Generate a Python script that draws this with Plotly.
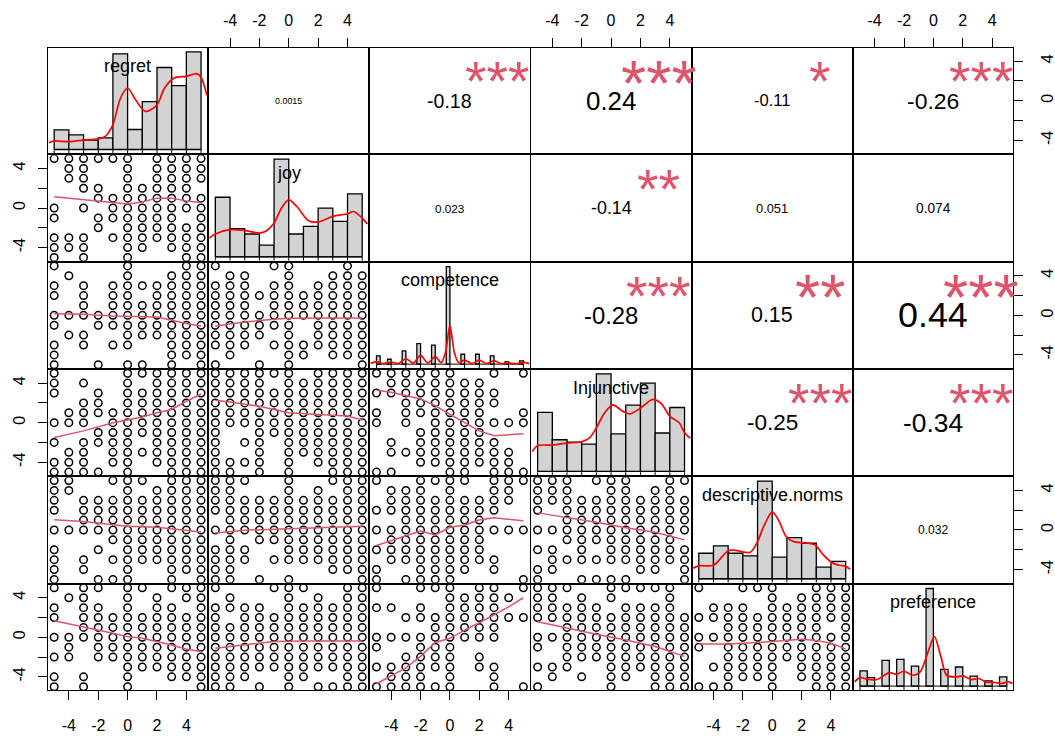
import plotly.graph_objects as go
from plotly.subplots import make_subplots

names = ["regret", "joy", "competence", "Injunctive", "descriptive.norms", "preference"]
levels = list(range(-5, 6))
ALL = levels

# ---------------- histograms (bin left edges, bin width, relative heights) ----------------
unit_left = [-5, -4, -3, -2, -1, 0, 1, 2, 3, 4]
regret_hist = [0.20, 0.15, 0.095, 0.12, 0.98, 0.205, 0.49, 0.84, 0.655, 1.0]
joy_hist = [0.606, 0.286, 0.232, 0.118, 0.993, 0.232, 0.310, 0.495, 0.360, 0.640]
competence_left = [-5, -4.25, -3.25, -2.25, -1.25, -0.25, 0.75, 1.75, 2.75, 3.75, 4.75]
competence_hist = [0.084, 0.05, 0.135, 0.209, 0.195, 0.997, 0.101, 0.101, 0.084, 0.024, 0.034]
injunctive_hist = [0.609, 0.327, 0.303, 0.283, 1.007, 0.387, 0.684, 0.912, 0.397, 0.660]
descriptive_hist = [0.266, 0.343, 0.266, 0.239, 1.017, 0.226, 0.428, 0.370, 0.121, 0.182]
preference_left = [-5, -4.5, -3.5, -2.5, -1.5, -0.5, 0.5, 1.5, 2.5, 3.5, 4.5]
preference_hist = [0.156, 0.088, 0.265, 0.276, 0.207, 1.007, 0.173, 0.197, 0.102, 0.054, 0.095]

hists = [
    (unit_left, 1.0, regret_hist),
    (unit_left, 1.0, joy_hist),
    (competence_left, 0.25, competence_hist),
    (unit_left, 1.0, injunctive_hist),
    (unit_left, 1.0, descriptive_hist),
    (preference_left, 0.5, preference_hist),
]

# ---------------- density curves ----------------
regret_dx = [-5.35, -5, -4, -3, -2, -1.5, -1, -0.5, 0, 0.5, 1.2, 2, 2.5, 3.2, 4, 4.7, 5, 5.4]
regret_dy = [0.07, 0.087, 0.08, 0.097, 0.11, 0.137, 0.255, 0.52, 0.63, 0.52, 0.39, 0.456, 0.626, 0.734, 0.75, 0.777, 0.74, 0.556]
joy_dx = [-5.42, -5, -4, -3, -2, -1.5, -1, -0.5, 0, 0.55, 1.35, 2, 3, 4, 4.4, 5, 5.35]
joy_dy = [0.19, 0.232, 0.276, 0.269, 0.242, 0.266, 0.343, 0.495, 0.579, 0.512, 0.367, 0.354, 0.411, 0.438, 0.461, 0.394, 0.333]
competence_dx = [-5.4, -5, -4.6, -4, -3.5, -3, -2.5, -2, -1.5, -1, -0.6, -0.3, 0, 0.3, 0.6, 1, 1.5, 2, 2.5, 3, 3.5, 4, 4.5, 5, 5.4]
competence_dy = [0.008, 0.025, 0.006, 0.022, 0.006, 0.055, 0.01, 0.09, 0.012, 0.08, 0.015, 0.12, 0.40, 0.12, 0.015, 0.04, 0.006, 0.04, 0.006, 0.035, 0.004, 0.012, 0.004, 0.018, 0.005]
injunctive_dx = [-5.38, -5, -4, -3, -2, -1.45, -1, -0.45, 0.13, 0.8, 1.26, 2, 2.83, 3.4, 4, 4.64, 5, 5.4]
injunctive_dy = [0.205, 0.266, 0.273, 0.293, 0.306, 0.35, 0.451, 0.603, 0.687, 0.62, 0.593, 0.653, 0.744, 0.704, 0.569, 0.502, 0.40, 0.343]
descriptive_dx = [-5.38, -5, -4, -3, -2.5, -1.5, -1, -0.55, 0, 0.45, 0.95, 1.46, 2, 2.9, 3.46, 4, 4.55, 4.9, 5.3]
descriptive_dy = [0.111, 0.135, 0.141, 0.293, 0.296, 0.276, 0.387, 0.556, 0.697, 0.606, 0.438, 0.387, 0.377, 0.354, 0.253, 0.175, 0.141, 0.135, 0.101]
preference_dx = [-5.36, -5, -4.46, -3.83, -3, -2.5, -2, -1.4, -0.9, -0.33, 0.07, 0.52, 0.9, 1.58, 2, 2.6, 3.1, 3.6, 4.2, 4.63, 5.1, 5.4]
preference_dy = [0.044, 0.088, 0.068, 0.068, 0.139, 0.122, 0.153, 0.112, 0.146, 0.367, 0.51, 0.299, 0.112, 0.095, 0.105, 0.068, 0.078, 0.041, 0.037, 0.027, 0.044, 0.027]

dens = [(regret_dx, regret_dy), (joy_dx, joy_dy), (competence_dx, competence_dy),
        (injunctive_dx, injunctive_dy), (descriptive_dx, descriptive_dy), (preference_dx, preference_dy)]

# ---------------- scatter panels: {y value: [x values present]} ----------------
joy_vs_regret = {5: [-5, -4, -3, -2, -1, 0, 2, 3, 4, 5], 4: [-4, -3, 0, 2, 3, 4, 5], 3: [-4, -3, 0, 2, 3, 4, 5],
                 2: [-3, -2, 0, 1, 2, 3, 4], 1: [-2, -1, 0, 1, 2, 3, 4, 5], 0: [-5, -3, -1, 0, 1, 2, 3, 4, 5],
                 -1: [-5, -2, -1, 0, 1, 2, 3, 5], -2: [-2, 0, 1, 2, 3, 4, 5], -3: [-5, -4, -3, -1, 0, 1, 2, 3, 4, 5],
                 -4: [-5, -4, -3, 0, 1, 3, 4, 5], -5: [-5, -3, 0, 4, 5]}
comp_vs_regret = {5: [-5, 0, 4, 5], 4: [-4, 0, 3, 4, 5], 3: [-5, -3, -1, 0, 1, 2, 3, 4, 5], 2: [-5, -3, -1, 0, 2, 3, 4, 5],
                  1: [-3, -1, 0, 1, 2, 3, 4, 5], 0: ALL, -1: [-5, -2, -1, 0, 1, 2, 3, 4, 5], -2: [-4, -3, 0, 1, 2, 3, 4, 5],
                  -3: [-5, -3, -1, 0, 3, 4, 5], -4: [-5, 3, 4, 5], -5: [-5, -2, 0, 1, 3, 5]}
comp_vs_joy = {5: [-5, -1, 0, 4], 4: [-4, -3, 0, 3, 4, 5], 3: [-5, -4, -3, -1, 0, 2, 3, 4, 5], 2: ALL,
               1: [-5, -4, -3, -1, 0, 1, 2, 3, 4, 5], 0: ALL, -1: [-5, -4, -3, -2, -1, 0, 2, 3, 4, 5],
               -2: [-5, -4, -3, -2, 0, 2, 3, 4, 5], -3: [-5, -4, -3, -1, 0, 1, 2, 3, 4, 5], -4: [-4, 0, 1, 3, 4, 5],
               -5: [-5, -2, 0, 5]}
inj_vs_regret = {5: [-5, 0, 1, 2, 3, 4, 5], 4: [-5, -3, 0, 2, 3, 4, 5], 3: [-5, -2, 0, 1, 2, 3, 4, 5],
                 2: [-3, -2, 0, 1, 2, 3, 4, 5], 1: [-4, -3, -2, -1, 0, 1, 2, 3, 4, 5], 0: [-5, -4, -3, -1, 0, 1, 2, 3, 4, 5],
                 -1: [-2, -1, 0, 1, 2, 3, 4, 5], -2: [-5, -3, -2, -1, 0, 2, 3, 4, 5], -3: [-4, -3, -1, 0, 1, 2, 3, 4, 5],
                 -4: [-5, -4, -3, -1, 0, 2, 3, 4, 5], -5: [-5, -4, -3, -2, 0, 3, 4, 5]}
inj_vs_joy = {5: [-5, -4, -3, -2, -1, 0, 2, 3, 4, 5], 4: [-5, -4, -3, -2, 0, 1, 2, 3, 4, 5], 3: ALL, 2: ALL, 1: ALL, 0: ALL,
              -1: [-5, -2, -1, 0, 1, 2, 3, 4, 5], -2: [-5, -3, -2, 0, 1, 2, 3, 4, 5], -3: [-5, -2, 0, 1, 2, 3, 4, 5],
              -4: [-5, -4, -3, -2, 0, 2, 3, 4, 5], -5: [-5, -4, -2, 0, 3, 4, 5]}
inj_vs_comp = {5: [-5, -4, -3, -2, -1, 0, 3, 5], 4: [-4, -3, -2, -1, 0, 1, 2], 3: [-5, -4, -3, -2, -1, 0, 1, 2, 3],
               2: [-3, -2, -1, 0, 1, 2, 3], 1: [-5, -3, -2, -1, 0, 1, 2, 5], 0: [-5, -3, -1, 0, 1, 2, 3, 4, 5],
               -1: [-2, -1, 0, 1, 2], -2: [-4, -2, -1, 0, 1, 2, 3], -3: [-4, -3, -2, -1, 0, 1, 2, 3, 4],
               -4: [-2, -1, 0, 1, 2, 3, 4], -5: [-5, -4, 0, 1, 3, 4, 5]}
desc_vs_regret = {5: [-5, -4, -1, 0, 1, 3, 4, 5], 4: [-5, -4, 0, 2, 3, 4, 5], 3: [-5, -3, -2, -1, 0, 1, 2, 3, 4, 5],
                  2: [-5, -3, -2, -1, 0, 1, 2, 3, 4, 5], 1: [-3, -2, -1, 0, 1, 2, 3, 4, 5], 0: ALL,
                  -1: [-1, 0, 1, 2, 3, 4, 5], -2: [-5, -2, 0, 1, 2, 3, 4, 5], -3: [-5, -3, -1, 0, 1, 2, 3, 4, 5],
                  -4: [-5, -3, 0, 3, 4, 5], -5: [-5, -2, -1, 0, 3, 5]}
desc_vs_joy = {5: [-5, -4, -3, 0, 3, 4, 5], 4: [-5, -4, 0, 2, 4, 5], 3: ALL, 2: ALL, 1: [-4, -3, -2, -1, 0, 1, 2, 3, 4, 5],
               0: ALL, -1: [-4, -2, -1, 0, 1, 2, 3, 4, 5], -2: [-5, -4, -3, 0, 1, 2, 3, 4, 5],
               -3: [-5, -4, -3, -1, 0, 1, 2, 3, 4, 5], -4: [-5, -4, 3, 4, 5], -5: [-5, -4, -2, 0, 5]}
desc_vs_comp = {5: [-5, -2, -1, 0, 1, 3, 4, 5], 4: [-4, -3, -2, 0, 3, 4], 3: [-4, -3, -2, -1, 0, 1, 2, 3, 4],
                2: [-5, -4, -3, -2, -1, 0, 1, 2, 3], 1: [-3, -2, -1, 0, 1, 2], 0: ALL, -1: [-4, -3, -2, -1, 0, 1, 2],
                -2: [-5, -4, -3, -2, -1, 0, 1, 2], -3: [-4, -3, -2, -1, 0, 1, 2, 3], -4: [-5, -2, -1, 0, 1, 3],
                -5: [-5, -3, -2, -1, 0, 5]}
desc_vs_inj = {5: [-5, -4, -3, -1, 0, 1, 4, 5], 4: [-5, -4, -3, 0, 1, 3, 4], 3: ALL, 2: [-5, -3, -2, -1, 0, 1, 2, 3, 4, 5],
               1: [-3, -2, -1, 0, 1, 2, 3, 4, 5], 0: ALL, -1: [-3, -2, -1, 0, 1, 2, 3, 4],
               -2: [-5, -4, -2, 0, 1, 2, 3, 4, 5], -3: [-4, -3, -2, -1, 0, 1, 2, 3, 4, 5], -4: [-5, -4, 2, 3, 5],
               -5: [-5, -2, -1, 0, 1, 5]}
pref_vs_regret = {5: [-5, -3, -2, 0, 1, 3, 4, 5], 4: [-4, -3, 0, 2, 4, 5], 3: [-5, -3, -2, 0, 2, 3, 5],
                  2: [-5, -3, -2, -1, 0, 1, 2, 3, 4, 5], 1: [-3, -2, -1, 0, 1, 2, 3, 4, 5], 0: ALL,
                  -1: [-4, -2, -1, 0, 1, 2, 3, 4, 5], -2: [-5, -4, -2, -1, 0, 1, 2, 3, 4, 5], -3: [0, 1, 2, 3, 4, 5],
                  -4: [-5, -3, 0, 3, 4, 5], -5: [-5, -3, 0, 5]}
pref_vs_joy = {5: [-5, -1, 0, 1, 4, 5], 4: [-4, 0, 2, 4, 5], 3: [-5, -4, -3, -2, 0, 1, 2, 3, 4, 5],
               2: [-5, -3, -2, -1, 0, 1, 2, 3, 4, 5], 1: ALL, 0: ALL, -1: ALL, -2: ALL, -3: ALL,
               -4: [-5, -4, -3, 0, 1, 4, 5], -5: [-5, -4, -2, 0, 2, 3, 4, 5]}
pref_vs_comp = {5: [-5, -2, -1, 0, 2, 3, 5], 4: [0, 1, 2, 3, 4], 3: [-5, -4, -2, 0, 1, 2, 3], 2: [-3, -2, -1, 0, 1, 2, 3, 4, 5],
                1: [-1, 0, 1, 2, 3], 0: [-5, -4, -3, -2, -1, 0, 1, 2, 3], -1: [-5, -2, -1, 0], -2: [-3, -2, -1, 0, 2],
                -3: [-5, -4, -3, -2, -1, 0, 2, 3], -4: [-4, -3, -2, 0, 3], -5: [-5, -4, -3, -2, -1, 0, 3, 5]}
pref_vs_inj = {5: [-5, -4, -3, 0, 1, 2, 3, 4], 4: [-5, -4, -2, 0, 4], 3: [-5, -4, -3, -2, -1, 1, 2, 3, 4], 2: ALL,
               1: [-3, -2, -1, 0, 1, 2, 3, 4, 5], 0: ALL, -1: [-5, -3, -2, -1, 0, 1, 2, 3, 4, 5],
               -2: [-3, -2, -1, 0, 1, 2, 3, 4, 5], -3: [-5, -4, -3, 0, 1, 2, 3, 4, 5], -4: [-4, -2, 0, 1, 3, 4, 5],
               -5: [-5, 0, 3, 4, 5]}
pref_vs_desc = {5: [-5, -2, -1, 0, 3, 4, 5], 4: [0, 2, 3, 4, 5], 3: [-4, -3, -2, 0, 1, 2, 3, 4, 5], 2: ALL,
                1: [-3, -2, -1, 0, 1, 2, 3, 5], 0: ALL, -1: [-5, -3, -2, -1, 0, 1, 2, 3, 4, 5],
                -2: [-3, -2, -1, 0, 1, 2, 3, 4, 5], -3: [-4, -3, -2, -1, 0, 2, 3, 4, 5], -4: [-3, -2, -1, 0, 2, 3, 4, 5],
                -5: [-5, -4, -3, 0, 3, 4, 5]}

scatter_panels = {
    (1, 0): joy_vs_regret, (2, 0): comp_vs_regret, (2, 1): comp_vs_joy,
    (3, 0): inj_vs_regret, (3, 1): inj_vs_joy, (3, 2): inj_vs_comp,
    (4, 0): desc_vs_regret, (4, 1): desc_vs_joy, (4, 2): desc_vs_comp, (4, 3): desc_vs_inj,
    (5, 0): pref_vs_regret, (5, 1): pref_vs_joy, (5, 2): pref_vs_comp, (5, 3): pref_vs_inj, (5, 4): pref_vs_desc,
}

# ---------------- smoother lines ----------------
smooth = {
    (1, 0): ([-5, -1, 0, 1, 2, 3, 4, 5], [1.13, 0.5, 0.4, 0.6, 1.0, 1.0, 0.7, 0.57]),
    (2, 0): ([-5, -3, -1, 1, 2, 3, 4, 5], [0.17, 0.1, -0.07, -0.1, -0.17, -0.5, -0.83, -1.07]),
    (2, 1): ([-5, -3, -1, 0, 2, 5], [-1.07, -0.67, -0.4, -0.3, -0.27, -0.27]),
    (3, 0): ([-5, -3, -1, 1, 2, 3, 4, 5], [-1.5, -0.83, 0, 0.57, 1.0, 1.33, 2.17, 2.9]),
    (3, 1): ([-5, -4, -2, 0, 2, 4, 5], [2.27, 2.1, 1.67, 1.0, 0.83, 0.67, 0.27]),
    (3, 2): ([-5, -4, -2, -1, 0, 1, 2, 3, 4, 5], [3.27, 3.07, 2.4, 1.73, 0.83, 0, -0.83, -1.33, -1.23, -1.13]),
    (4, 0): ([-5, -3, -1, 0, 2, 4, 5], [1.03, 0.87, 0.53, 0.37, 0.27, -0.07, -0.2]),
    (4, 1): ([-5, -3, 0, 3, 5], [-0.3, -0.03, 0.13, 0.23, 0.37]),
    (4, 2): ([-5, -3, -2, -1, 0, 1, 2, 3, 4, 5], [-1.57, -0.57, -0.1, -0.5, 0.27, 0.5, 1.0, 1.23, 1.07, 0.93]),
    (4, 3): ([-5, -3, -1, 1, 3, 5], [1.73, 1.27, 0.77, 0.23, -0.23, -1.0]),
    (5, 0): ([-5, -3, -1, 0, 1, 3, 4, 5], [1.67, 1.07, 0.4, 0.07, -0.1, -0.77, -1.2, -1.43]),
    (5, 1): ([-5, -3, -1, 1, 3, 5], [-1.1, -0.77, -0.43, -0.37, -0.37, -0.37]),
    (5, 2): ([-5, -4, -3, -2, -1, 0, 1, 2, 3, 4, 5], [-4.7, -3.93, -3.1, -1.93, -0.53, -0.1, 0.73, 1.47, 2.23, 3.07, 4.0]),
    (5, 3): ([-5, -3, -1, 1, 3, 5], [1.57, 0.9, 0.3, -0.27, -0.93, -1.93]),
    (5, 4): ([-5, -3, -1, 1, 2, 3, 4, 5], [-0.67, -0.67, -0.53, -0.27, -0.2, -0.33, -0.6, -1.17]),
}

# ---------------- correlations and significance stars ----------------
correlations = {
    (0, 1): 0.0015, (0, 2): -0.18, (0, 3): 0.24, (0, 4): -0.11, (0, 5): -0.26,
    (1, 2): 0.023, (1, 3): -0.14, (1, 4): 0.051, (1, 5): 0.074,
    (2, 3): -0.28, (2, 4): 0.15, (2, 5): 0.44,
    (3, 4): -0.25, (3, 5): -0.34,
    (4, 5): 0.032,
}
stars = {
    (0, 1): "", (0, 2): "***", (0, 3): "***", (0, 4): "*", (0, 5): "***",
    (1, 2): "", (1, 3): "**", (1, 4): "", (1, 5): "",
    (2, 3): "***", (2, 4): "**", (2, 5): "***",
    (3, 4): "***", (3, 5): "***",
    (4, 5): "",
}

tick_vals = [-4, -2, 0, 2, 4]
x_tick_text = ["-4", "-2", "0", "2", "4"]
y_tick_text = ["-4", "", "0", "", "4"]

# ---------------- build figure ----------------
XR = [-5.42, 5.42]
YR = [-5.33, 5.33]
PINK = "#DF536B"
FONT = "Liberation Sans, Arial, sans-serif"
n = len(names)

fig = make_subplots(rows=n, cols=n, horizontal_spacing=0.002, vertical_spacing=0.003)


def em_width(s):
    w = {"-": 0.333, ".": 0.278}
    return sum(w.get(ch, 0.556) for ch in s)


def axref(r, c):
    k = r * n + c + 1
    return ("x" if k == 1 else f"x{k}"), ("y" if k == 1 else f"y{k}")


for r in range(n):
    for c in range(n):
        xr, yr = axref(r, c)
        yrange = YR
        if r == c:
            left, w, h = hists[r]
            M = max(h)
            yrange = [-0.04 * M, 1.04 * M]
            fig.add_trace(go.Scatter(x=[left[0], left[-1] + w], y=[0, 0], mode="lines",
                                     line=dict(color="black", width=1), showlegend=False,
                                     hoverinfo="skip"), row=r + 1, col=c + 1)
            fig.add_trace(go.Bar(x=[l + w / 2 for l in left], y=h, width=w,
                                 marker=dict(color="#D3D3D3", line=dict(color="black", width=1.3)),
                                 showlegend=False), row=r + 1, col=c + 1)
            dx, dy = dens[r]
            fig.add_trace(go.Scatter(x=dx, y=dy, mode="lines",
                                     line=dict(color="red", width=1.7, shape="spline", smoothing=0.8),
                                     showlegend=False), row=r + 1, col=c + 1)
            span = yrange[1] - yrange[0]
            rx, ry = [], []
            for v in levels:
                rx += [v, v, None]
                ry += [yrange[0], yrange[0] + 0.03 * span, None]
            fig.add_trace(go.Scatter(x=rx, y=ry, mode="lines", line=dict(color="black", width=1),
                                     showlegend=False, hoverinfo="skip"), row=r + 1, col=c + 1)
            fig.add_annotation(x=0, y=yrange[0] + 0.833 * span, xref=xr, yref=yr, text=names[r],
                               showarrow=False, font=dict(family=FONT, size=18, color="black"),
                               xanchor="center", yanchor="middle")
        elif r > c:
            pts = scatter_panels[(r, c)]
            xs, ys = [], []
            for yv, xl in pts.items():
                for xv in xl:
                    xs.append(xv)
                    ys.append(yv)
            fig.add_trace(go.Scatter(x=xs, y=ys, mode="markers",
                                     marker=dict(symbol="circle-open", size=7.5, color="black",
                                                 line=dict(width=1.5, color="black")),
                                     showlegend=False, cliponaxis=True), row=r + 1, col=c + 1)
            sx, sy = smooth[(r, c)]
            fig.add_trace(go.Scatter(x=sx, y=sy, mode="lines", line=dict(color=PINK, width=1.5),
                                     showlegend=False), row=r + 1, col=c + 1)
        else:
            rv = correlations[(r, c)]
            txt = format(rv, ".2g")
            fsize = 97 * (abs(rv) + 0.28) / em_width(txt)
            fig.add_annotation(x=0, y=0, xref=xr, yref=yr, text=txt, showarrow=False,
                               font=dict(family=FONT, size=fsize, color="black"),
                               xanchor="center", yanchor="middle")
            if stars[(r, c)]:
                ssize = 126 / em_width(txt)
                fig.add_annotation(x=XR[0] + 0.8 * (XR[1] - XR[0]), y=YR[0] + 0.8 * (YR[1] - YR[0]),
                                   xref=xr, yref=yr, text=stars[(r, c)], showarrow=False,
                                   font=dict(family=FONT, size=ssize, color=PINK),
                                   xanchor="center", yanchor="middle", yshift=-0.22 * ssize)

        xkw = dict(range=XR, showgrid=False, zeroline=False, showline=True, mirror=True,
                   linecolor="black", linewidth=1, tickvals=tick_vals, ticktext=x_tick_text,
                   tickfont=dict(family=FONT, size=16, color="black"), fixedrange=True,
                   automargin=False)
        if r == 0 and c % 2 == 1:
            xkw.update(side="top", ticks="outside", ticklen=9, tickcolor="black", showticklabels=True,
                       ticklabelstandoff=6)
        elif r == n - 1 and c % 2 == 0:
            xkw.update(side="bottom", ticks="outside", ticklen=9, tickcolor="black", showticklabels=True,
                       ticklabelstandoff=12)
        else:
            xkw.update(ticks="", showticklabels=False)
        fig.update_xaxes(row=r + 1, col=c + 1, **xkw)

        ykw = dict(range=yrange, showgrid=False, zeroline=False, showline=True, mirror=True,
                   linecolor="black", linewidth=1, tickvals=tick_vals, ticktext=y_tick_text,
                   tickangle=-90, tickfont=dict(family=FONT, size=16, color="black"), fixedrange=True,
                   automargin=False)
        if c == 0 and r % 2 == 1:
            ykw.update(side="left", ticks="outside", ticklen=9, tickcolor="black", showticklabels=True,
                       ticklabelstandoff=7)
        elif c == n - 1 and r % 2 == 0:
            ykw.update(side="right", ticks="outside", ticklen=9, tickcolor="black", showticklabels=True,
                       ticklabelstandoff=11)
        else:
            ykw.update(ticks="", showticklabels=False)
        fig.update_yaxes(row=r + 1, col=c + 1, **ykw)

fig.update_layout(width=1055, height=736, margin=dict(l=48, r=42, t=48, b=46, autoexpand=False),
                  plot_bgcolor="white", paper_bgcolor="white", showlegend=False,
                  font=dict(family=FONT, color="black"))

fig.write_html("out.html", config={"displayModeBar": False},
               post_script="document.body.style.margin='0';document.body.style.overflow='hidden';")
